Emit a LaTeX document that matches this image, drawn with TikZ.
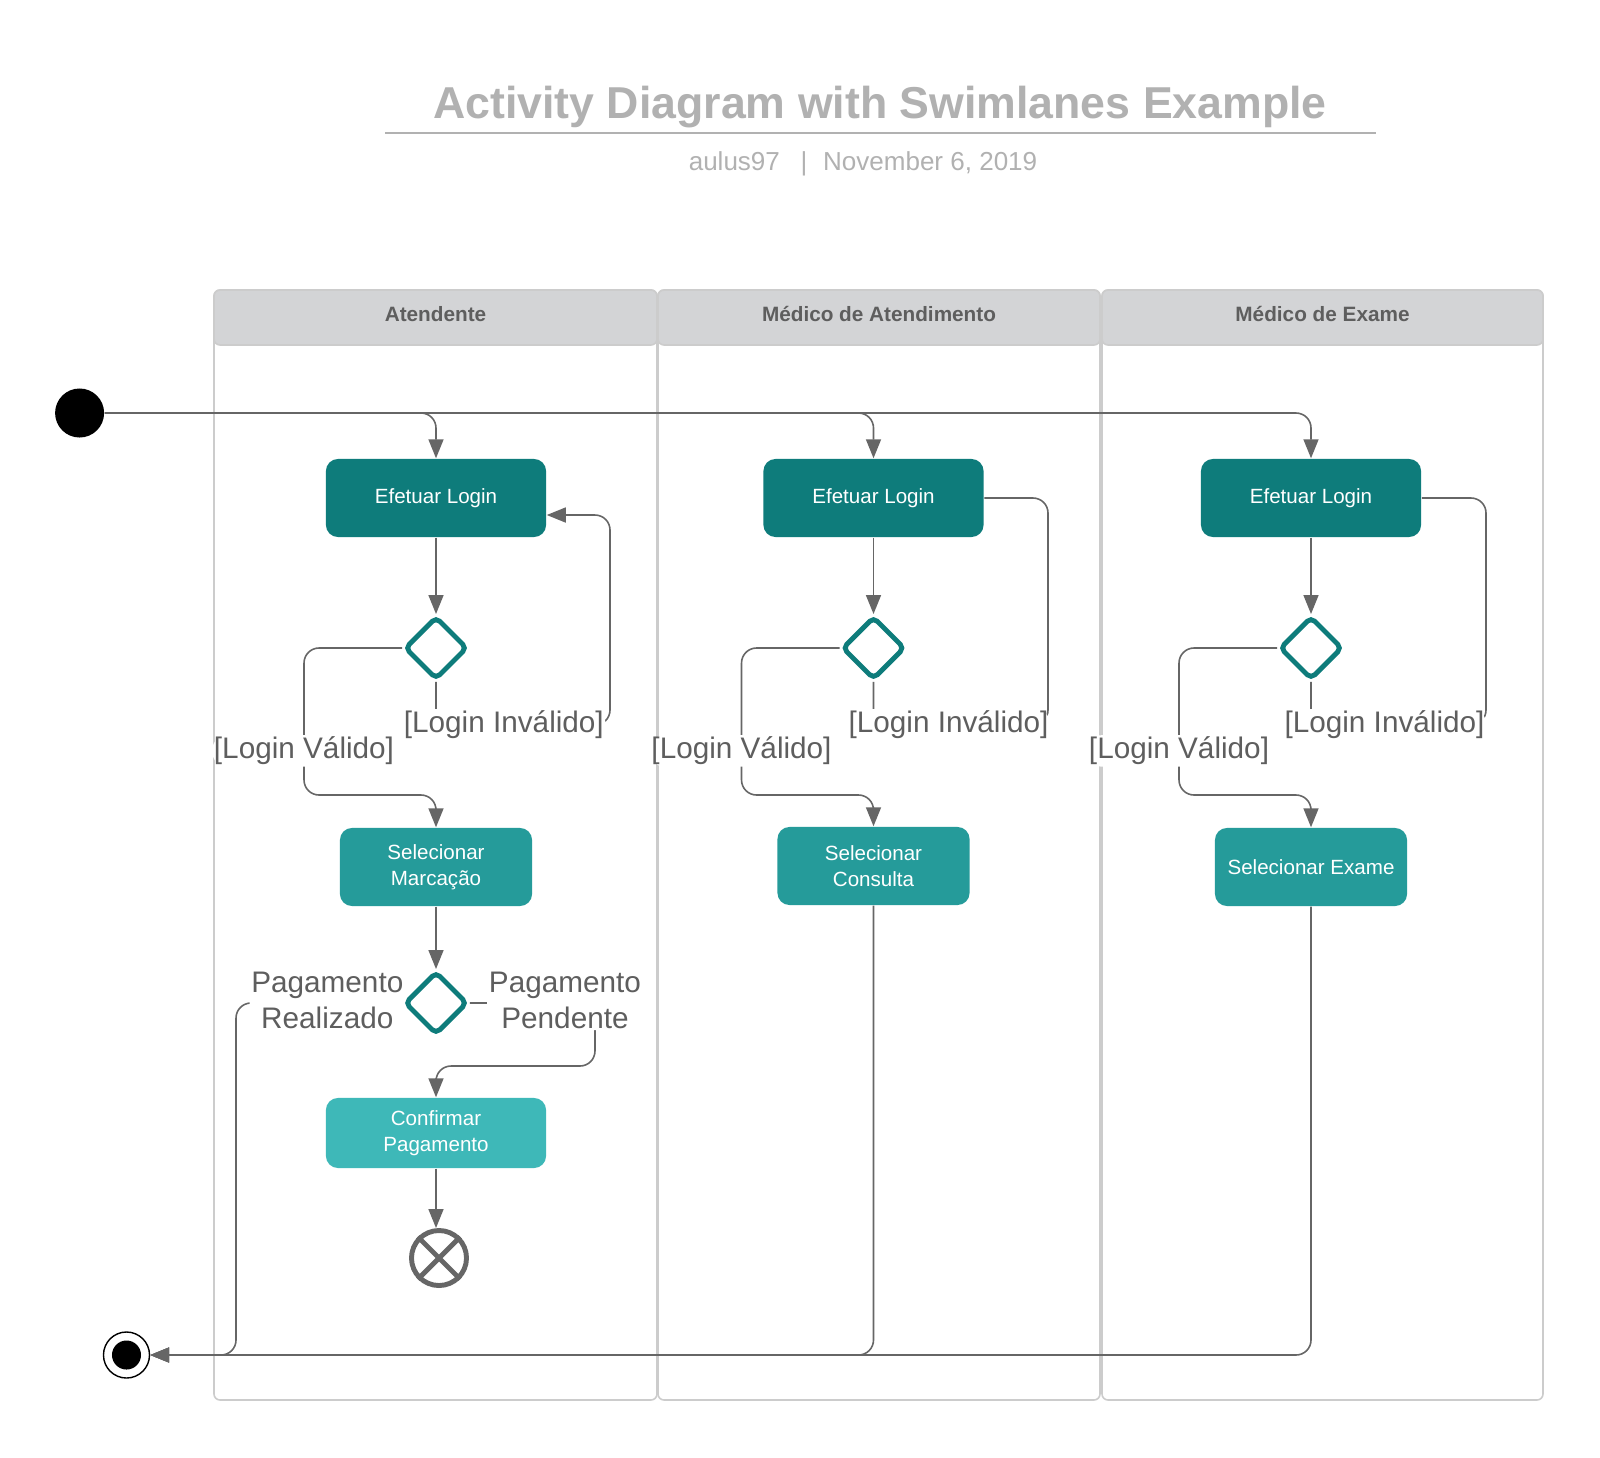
\documentclass[tikz,border=0pt]{standalone}
\usepackage{fontspec}
\setmainfont{Liberation Sans}
\usetikzlibrary{arrows.meta,shapes.geometric}
\definecolor{tealdark}{HTML}{0E7C7B}
\definecolor{tealmid}{HTML}{259B9A}
\definecolor{teallight}{HTML}{3EB8B8}
\definecolor{flowgray}{HTML}{666666}
\definecolor{lanegray}{HTML}{CCCCCC}
\definecolor{headgray}{HTML}{D3D4D6}
\definecolor{titlegray}{HTML}{B1B1B1}
\definecolor{textgray}{HTML}{5E5E5E}

\begin{document}
\begin{tikzpicture}[x=0.01cm, y=-0.01cm,
		act/.style={rectangle, rounded corners=0.12cm, text=white, align=center, inner sep=0pt,
			font=\fontsize{5.85}{7.25}\selectfont},
		dec/.style={diamond, draw=tealdark, fill=white, line width=1.4pt, rounded corners=1.5pt,
			minimum size=0.63cm, inner sep=0pt},
		flowline/.style={draw=flowgray, line width=0.45pt, rounded corners=0.15cm},
		flow/.style={flowline, -{Triangle[length=0.19cm, width=0.15cm]}},
		glabel/.style={fill=white, inner sep=0.5pt, text=textgray, align=center,
			font=\fontsize{8.45}{10.2}\selectfont},
		lanebox/.style={draw=lanegray, line width=0.45pt, rounded corners=0.06cm},
		headbox/.style={draw=lanegray, fill=headgray, line width=0.45pt, rounded corners=0.06cm},
		headtext/.style={text=textgray, font=\fontsize{5.9}{7}\selectfont\bfseries}]
			\useasboundingbox[fill=white] (0,0) rectangle (1600,1457);

			% title
			\node[text=titlegray, font=\fontsize{12.7}{15}\selectfont\bfseries] (ttl) at (880,107) {Activity Diagram with Swimlanes Example};
			\draw[titlegray, line width=0.6pt] (385,133) -- (1376,133);
			\node[text=titlegray, font=\fontsize{7.4}{9}\selectfont] (sub) at (863,164) {aulus97\hspace{0.8em}|\hspace{0.6em}November 6, 2019};

			% swimlanes
			\draw[lanebox] (214,290) rectangle (657,1400);
			\draw[lanebox] (658,290) rectangle (1100,1400);
			\draw[lanebox] (1102,290) rectangle (1543,1400);
			\draw[headbox] (214,290) rectangle (657,345);
			\draw[headbox] (658,290) rectangle (1100,345);
			\draw[headbox] (1102,290) rectangle (1543,345);
			\node[headtext] (lane1) at (435.5,314) {Atendente};
			\node[headtext] (lane2) at (879,314) {Médico de Atendimento};
			\node[headtext] (lane3) at (1322.5,314) {Médico de Exame};

			% start / end
			\node[circle, fill=black, minimum size=0.49cm, inner sep=0pt] (start) at (79.6,413) {};
			\node[circle, draw=black, line width=0.4pt, fill=white, minimum size=0.46cm, inner sep=0pt] (fin) at (126.5,1355) {};
			\node[circle, fill=black, minimum size=0.29cm, inner sep=0pt] (findot) at (fin) {};

			% Atendente
			\node[act, fill=tealdark, minimum width=2.2cm, minimum height=0.78cm] (efl1) at (436,498) {Efetuar Login};
			\node[dec] (dec1) at (436,648) {};
			\node[act, fill=tealmid, minimum width=1.92cm, minimum height=0.78cm] (sel1) at (436,867) {Selecionar\\Marcação};
			\node[dec] (pdec) at (436,1003) {};
			\node[act, fill=teallight, minimum width=2.2cm, minimum height=0.7cm] (conf) at (436,1133) {Confirmar\\Pagamento};
			\node[circle, draw=flowgray, line width=1.4pt, minimum size=0.55cm, inner sep=0pt] (ff) at (439,1258) {};
			\draw[flowgray, line width=1.4pt] (ff.45) -- (ff.225);
			\draw[flowgray, line width=1.4pt] (ff.135) -- (ff.315);

			% Medico de Atendimento
			\node[act, fill=tealdark, minimum width=2.2cm, minimum height=0.78cm] (efl2) at (873.5,498) {Efetuar Login};
			\node[dec] (dec2) at (873.5,648) {};
			\node[act, fill=tealmid, minimum width=1.92cm, minimum height=0.78cm] (sel2) at (873.5,866) {Selecionar\\Consulta};

			% Medico de Exame
			\node[act, fill=tealdark, minimum width=2.2cm, minimum height=0.78cm] (efl3) at (1311,498) {Efetuar Login};
			\node[dec] (dec3) at (1311,648) {};
			\node[act, fill=tealmid, minimum width=1.92cm, minimum height=0.78cm] (sel3) at (1311,867) {Selecionar Exame};

			% connectors
			\draw[flow] (start.east) -| (efl1.north);
			\draw[flow] (start.east) -| (efl2.north);
			\draw[flow] (start.east) -| (efl3.north);

			\draw[flow] (efl1) -- (dec1);
			\draw[flow] (efl2) -- (dec2);
			\draw[flow] (efl3) -- (dec3);

			\draw[flow] (dec1.west) -- ++(-98,0) -- node[glabel, pos=0.7] {[Login Válido]} ++(0,147) -| (sel1.north);
			\draw[flow] (dec2.west) -- ++(-98,0) -- node[glabel, pos=0.7] {[Login Válido]} ++(0,147) -| (sel2.north);
			\draw[flow] (dec3.west) -- ++(-98,0) -- node[glabel, pos=0.7] {[Login Válido]} ++(0,147) -| (sel3.north);

			\draw[flow] (dec1.south) -- ++(0,43) -- node[glabel, pos=0.39] {[Login Inválido]} ++(174,0) |- ([yshift=-0.17cm]efl1.east);
			\draw[flowline] (dec2.south) -- ++(0,43) -- node[glabel, pos=0.43] {[Login Inválido]} ++(174.5,0) |- (efl2.east);
			\draw[flowline] (dec3.south) -- ++(0,43) -- node[glabel, pos=0.42] {[Login Inválido]} ++(175,0) |- (efl3.east);

			\draw[flow] (sel1) -- (pdec);
			\draw[flow] (pdec.west) -- node[glabel, pos=0.45, yshift=0.03cm] {Pagamento\\Realizado} ++(-166,0) |- (fin.east);
			\draw[flow] (pdec.east) -- node[glabel, pos=0.76, yshift=0.03cm] {Pagamento\\Pendente} ++(125,0) -- ++(0,63) -| (conf.north);
			\draw[flow] (conf.south) -- (conf.south |- ff.north);

			\draw[flow] (sel2.south) |- (fin.east);
			\draw[flow] (sel3.south) |- (fin.east);
		\end{tikzpicture}
\end{document}
